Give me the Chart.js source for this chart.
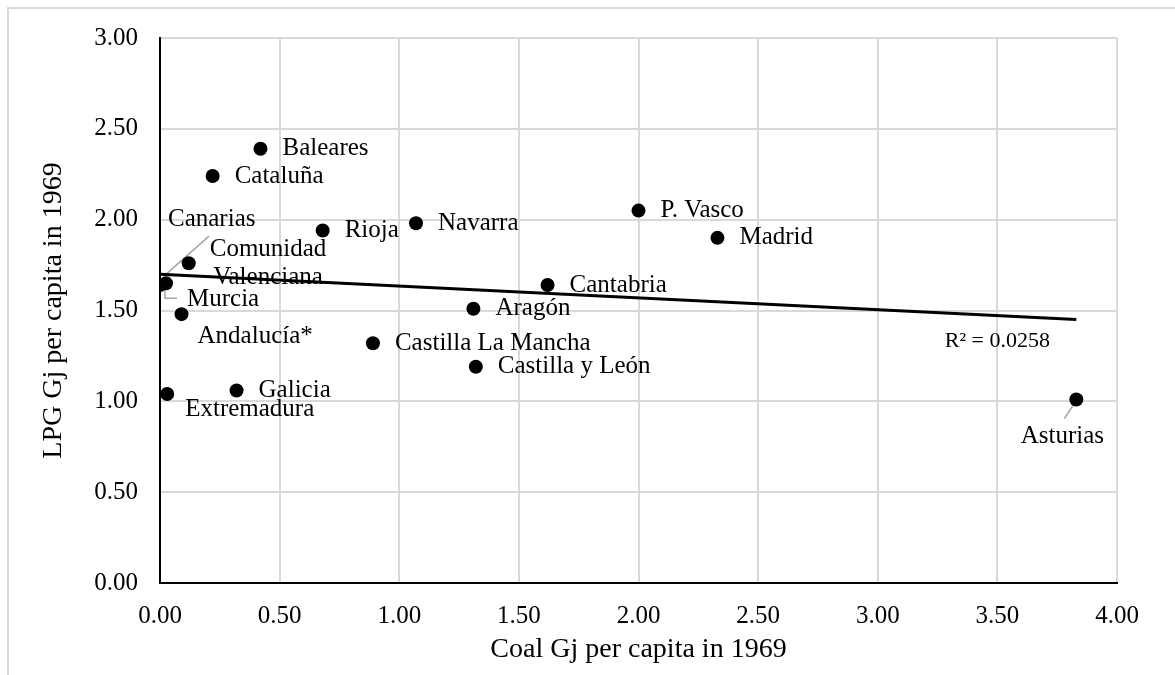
<!DOCTYPE html>
<html>
<head>
<meta charset="utf-8">
<script src="https://cdn.jsdelivr.net/npm/chart.js@4.4.1/dist/chart.umd.min.js"></script>
<style>
html,body{margin:0;padding:0;background:#fff;}
#wrap{position:relative;width:1175px;height:675px;overflow:hidden;}
#frame{position:absolute;left:7px;top:7px;width:1200px;height:700px;border-top:2px solid #d9d9d9;border-left:2px solid #d9d9d9;pointer-events:none;}
canvas{position:absolute;left:0;top:0;}
</style>
</head>
<body>
<div id="wrap">
  <canvas id="chart" width="1175" height="675"></canvas>
  <div id="frame"></div>
</div>
<script>
// data
const regions = ['Baleares','Cataluña','Canarias','Comunidad Valenciana','Murcia','Andalucía*','Extremadura','Galicia',
  'Rioja','Navarra','P. Vasco','Madrid','Cantabria','Aragón','Castilla La Mancha','Castilla y León','Asturias'];
const coal = [0.42, 0.22, 0.00, 0.12, 0.025, 0.09, 0.03, 0.32, 0.68, 1.07, 2.00, 2.33, 1.62, 1.31, 0.89, 1.32, 3.83];
const lpg  = [2.39, 2.24, 1.64, 1.76, 1.65, 1.48, 1.04, 1.06, 1.94, 1.98, 2.05, 1.90, 1.64, 1.51, 1.32, 1.19, 1.01];
const trendX = [0, 3.83];
const trendY = [1.70, 1.45];
const r2 = 'R² = 0.0258';

const SERIF = '"Liberation Serif", "Times New Roman", serif';

// where each label sits relative to its point (px); default is to the right
const place = {
  'Canarias': { dx: 8, dy: -66, leader: [[49,-49],[5,-10]] },
  'Comunidad Valenciana': { dx: 21, dy: 0, lines: ['Comunidad','Valenciana'] },
  'Murcia': { dx: 21, dy: 16, leader: [[-1,6],[-1,15],[11,15]] },
  'Andalucía*': { dx: 16, dy: 22 },
  'Extremadura': { dx: 18, dy: 15 },
  'Asturias': { dx: -14, dy: 37, center: true, leader: [[-12,19],[-2,4]] }
};

const labelPlugin = {
  id: 'pointLabels',
  beforeDatasetsDraw(chart) {
    const ctx = chart.ctx, pts = chart.getDatasetMeta(0).data;
    ctx.save();
    ctx.strokeStyle = '#a6a6a6';
    ctx.lineWidth = 1.5;
    pts.forEach((pt, i) => {
      const p = place[regions[i]];
      if (!p || !p.leader) return;
      ctx.beginPath();
      p.leader.forEach(([lx, ly], k) => k ? ctx.lineTo(pt.x + lx, pt.y + ly) : ctx.moveTo(pt.x + lx, pt.y + ly));
      ctx.stroke();
    });
    ctx.restore();
  },
  afterDatasetsDraw(chart) {
    const ctx = chart.ctx, pts = chart.getDatasetMeta(0).data;
    ctx.save();
    ctx.fillStyle = '#000';
    ctx.textBaseline = 'middle';
    ctx.textAlign = 'center';
    ctx.font = `25px ${SERIF}`;
    pts.forEach((pt, i) => {
      const name = regions[i];
      const p = place[name] || { dx: 22, dy: 0 };
      const lines = p.lines || [name];
      const w = Math.max(...lines.map(l => ctx.measureText(l).width));
      lines.forEach((l, k) => {
        const y = pt.y + p.dy + (k - (lines.length - 1) / 2) * 28;
        const x = p.center ? pt.x + p.dx : pt.x + p.dx + w / 2;
        ctx.fillText(l, x, y);
      });
    });
    // trendline R² label
    const tr = chart.getDatasetMeta(1).data;
    const end = tr[tr.length - 1];
    ctx.font = `22px ${SERIF}`;
    ctx.fillText(r2, end.x - 79, end.y + 22);
    ctx.restore();
  }
};

new Chart(document.getElementById('chart'), {
  type: 'scatter',
  data: {
    datasets: [{
      label: 'Regions',
      data: coal.map((x, i) => ({ x, y: lpg[i] })),
      backgroundColor: '#000',
      borderWidth: 0,
      pointRadius: 7,
      order: 0
    }, {
      type: 'line',
      label: 'Trend',
      data: trendX.map((x, i) => ({ x, y: trendY[i] })),
      borderColor: '#000',
      borderWidth: 3,
      pointRadius: 0,
      fill: false,
      order: 1
    }]
  },
  options: {
    responsive: false,
    animation: false,
    devicePixelRatio: 1,
    layout: { padding: { left: 0, right: 58, top: 38, bottom: 0 } },
    plugins: { legend: { display: false }, tooltip: { enabled: false } },
    scales: {
      x: {
        type: 'linear', min: 0, max: 4,
        ticks: { stepSize: 0.5, padding: 18, color: '#000', maxRotation: 0,
          font: { family: SERIF, size: 25 }, callback: v => v.toFixed(2) },
        grid: { color: '#d9d9d9', lineWidth: 2, drawTicks: false },
        border: { display: true, color: '#000', width: 2 },
        title: { display: true, text: 'Coal Gj per capita in 1969', color: '#000',
          font: { family: SERIF, size: 28 }, padding: { top: 0, bottom: 9 } },
        afterFit(s) { s.height = 92; }
      },
      y: {
        type: 'linear', min: 0, max: 3,
        ticks: { stepSize: 0.5, padding: 22, color: '#000',
          font: { family: SERIF, size: 25 }, callback: v => v.toFixed(2) },
        grid: { color: '#d9d9d9', lineWidth: 2, drawTicks: false },
        border: { display: true, color: '#000', width: 2 },
        title: { display: true, text: 'LPG Gj per capita in 1969', color: '#000',
          font: { family: SERIF, size: 28 }, padding: { top: 37, bottom: 0 } },
        afterFit(s) { s.width = 160; }
      }
    }
  },
  plugins: [labelPlugin]
});
</script>
</body>
</html>
